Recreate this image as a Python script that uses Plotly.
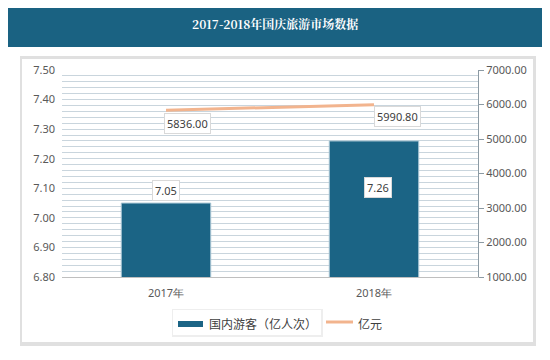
import plotly.graph_objects as go

categories = ["2017年", "2018年"]
visitors = [7.05, 7.26]          # 国内游客（亿人次）
revenue = [5836.00, 5990.80]     # 亿元
left_ticks = [6.80, 6.90, 7.00, 7.10, 7.20, 7.30, 7.40, 7.50]
right_ticks = [1000, 2000, 3000, 4000, 5000, 6000, 7000]

title = "2017-2018年国庆旅游市场数据"
bar_name = "国内游客（亿人次）"
line_name = "亿元"

BAR = "#1b6485"
LINE = "#f2b48e"
TICK = "#595959"
FONT = "Noto Sans, DejaVu Sans, sans-serif"
CJK = "Noto Sans CJK SC, sans-serif"

# page has an 8px body margin; work in reference pixel coords and offset
OFF = 8
W, H = 550 - OFF, 360 - OFF
PL, PR, PT, PB = 62, 478, 70, 277   # plot area in reference pixels

def px(x): return (x - PL) / (PR - PL)
def py(y): return (PB - y) / (PB - PT)

fig = go.Figure()
fig.add_trace(go.Bar(
    x=categories, y=visitors, name=bar_name, marker_color=BAR,
    marker_line=dict(color="#a9c6d4", width=1), width=0.43, yaxis="y",
    showlegend=False,
))
fig.add_trace(go.Scatter(
    x=categories, y=revenue, name=line_name, mode="lines",
    line=dict(color=LINE, width=3), yaxis="y2", showlegend=False,
))

# data labels
lab = dict(showarrow=False, bgcolor="white", bordercolor="#d9d9d9", borderwidth=1,
           borderpad=2, font=dict(family=FONT, size=11, color="#404040"))
fig.add_annotation(x=categories[0], y=visitors[0], yref="y", text=f"{visitors[0]:.2f}",
                   yshift=13, **lab)
fig.add_annotation(x=categories[1], y=visitors[1], yref="y", text=f"{visitors[1]:.2f}",
                   yshift=-47, xshift=4, **lab)
fig.add_annotation(x=categories[0], y=revenue[0], yref="y2", text=f"{revenue[0]:.2f}",
                   yshift=-13, xshift=21, **lab)
fig.add_annotation(x=categories[1], y=revenue[1], yref="y2", text=f"{revenue[1]:.2f}",
                   yshift=-12, xshift=23, **lab)

shapes = []
# title bar
shapes.append(dict(type="rect", xref="paper", yref="paper", x0=px(3), x1=px(548), y0=py(47), y1=py(3),
                   fillcolor="#1a6282", line_width=0, layer="below"))
# panel shadow and panel
shapes.append(dict(type="rect", xref="paper", yref="paper", x0=px(20), x1=px(536), y0=py(346), y1=py(56),
                   fillcolor="#e0e0e0", line_width=0, layer="below"))
shapes.append(dict(type="rect", xref="paper", yref="paper", x0=px(22), x1=px(533), y0=py(342), y1=py(59),
                   fillcolor="white", line_width=0, layer="below"))
# legend box shadow
shapes.append(dict(type="rect", xref="paper", yref="paper", x0=px(172), x1=px(323), y0=py(337), y1=py(309),
                   fillcolor="#eeeeee", line_width=0, layer="below"))
shapes.append(dict(type="rect", xref="paper", yref="paper", x0=px(173), x1=px(321), y0=py(335), y1=py(310),
                   fillcolor="white", line_width=0, layer="below"))
# legend symbols
shapes.append(dict(type="rect", xref="paper", yref="paper", x0=px(178), x1=px(203), y0=py(327), y1=py(321),
                   fillcolor=BAR, line_width=0))
shapes.append(dict(type="line", xref="paper", yref="paper", x0=px(326), x1=px(353), y0=py(322), y1=py(322),
                   line=dict(color=LINE, width=3)))
fig.update_layout(shapes=shapes)

fig.add_annotation(xref="paper", yref="paper", x=px(275), y=py(23), xanchor="center", yanchor="middle",
                   text="<b>" + title + "</b>", showarrow=False,
                   font=dict(family="Noto Serif CJK SC, Noto Sans CJK SC, serif", size=12, color="white"))
fig.add_annotation(xref="paper", yref="paper", x=px(207), y=py(323), xanchor="left", yanchor="middle",
                   text=bar_name, showarrow=False,
                   font=dict(family=CJK, size=12, color="#404040"))
fig.add_annotation(xref="paper", yref="paper", x=px(356), y=py(323), xanchor="left", yanchor="middle",
                   text=line_name, showarrow=False,
                   font=dict(family=CJK, size=12, color="#404040"))

fig.update_layout(
    width=W, height=H,
    margin=dict(l=PL - OFF, r=W - (PR - OFF), t=PT - OFF, b=H - (PB - OFF), pad=0),
    paper_bgcolor="white",
    plot_bgcolor="#e9eff3",
    showlegend=False,
    bargap=0.57,
    xaxis=dict(type="category", showgrid=False, showline=True, linecolor="#bfbfbf",
               ticks="", tickfont=dict(family=FONT, size=11, color=TICK), ticklabelstandoff=6),
    yaxis=dict(range=[6.80, 7.50], tickvals=left_ticks, ticktext=[f"{v:.2f}" for v in left_ticks],
               showgrid=True, gridcolor="#c9d5dd", gridwidth=1,
               minor=dict(dtick=0.02, tick0=6.8, showgrid=True, gridcolor="#c9d5dd", gridwidth=1),
               showline=False, zeroline=False, ticks="",
               tickfont=dict(family=FONT, size=11, color=TICK), ticklabelstandoff=6),
    yaxis2=dict(range=[1000, 7000], tickvals=right_ticks, ticktext=[f"{v:.2f}" for v in right_ticks],
                overlaying="y", side="right", showgrid=False, zeroline=False,
                showline=True, linecolor="#8c9aa3", ticks="outside", ticklen=5, tickcolor="#8c9aa3",
                tickfont=dict(family=FONT, size=11, color=TICK)),
)

fig.write_html("out.html")
